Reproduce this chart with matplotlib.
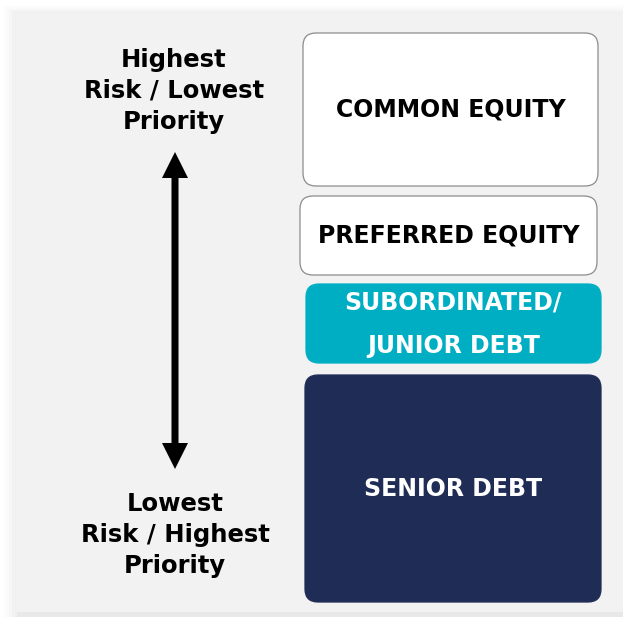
import matplotlib.pyplot as plt
from matplotlib.patches import FancyBboxPatch, FancyArrow, Rectangle

# capital stack, top (most junior) to bottom (most senior)
tranches = ["COMMON EQUITY", "PREFERRED EQUITY", "SUBORDINATED/\nJUNIOR DEBT", "SENIOR DEBT"]
top_label = "Highest\nRisk / Lowest\nPriority"
bottom_label = "Lowest\nRisk / Highest\nPriority"

# layout in pixels (x0, y0, x1, y1), y grows downward
boxes = [(303, 33, 598, 186), (300, 196, 597, 275), (306, 284, 601, 363), (305, 375, 601, 602)]
fills = ["white", "white", "#00AEC3", "#1F2C55"]
edges = ["#8C8C8C", "#8C8C8C", "#00AEC3", "#1F2C55"]
text_colors = ["black", "black", "white", "white"]
spacing = [1.2, 1.2, 2.0, 1.2]

W, H = 623, 617
fig = plt.figure(figsize=(W / 100, H / 100), dpi=100, facecolor="white")
ax = fig.add_axes([0, 0, 1, 1])
ax.set_xlim(0, W)
ax.set_ylim(H, 0)
ax.axis("off")

# soft shadow and panel
for i, a in enumerate([0.008, 0.012, 0.016, 0.02]):
    ax.add_patch(Rectangle((17 - 14 + 3 * i, 15 - 10 + 2 * i), W, H, color="black", alpha=a, lw=0))
ax.add_patch(Rectangle((17, 15), W, 597, facecolor="#F2F2F2", lw=0))
ax.add_patch(Rectangle((17, 612), W, 5, facecolor="#E8E8E8", lw=0))

for (x0, y0, x1, y1), label, fc, ec, tc, ls in zip(boxes, tranches, fills, edges, text_colors, spacing):
    ax.add_patch(FancyBboxPatch((x0, y0), x1 - x0, y1 - y0,
                                boxstyle="round,pad=0,rounding_size=13",
                                facecolor=fc, edgecolor=ec, lw=0.9))
    ax.text((x0 + x1) / 2, (y0 + y1) / 2 + 0.5, label, ha="center", va="center",
            color=tc, fontsize=17, fontweight="bold", linespacing=ls)

# double headed arrow
xa, ymid = 175, 310
ax.add_patch(FancyArrow(xa, ymid, 0, 152 - ymid, width=7, head_width=26, head_length=26,
                        length_includes_head=True, color="black", lw=0))
ax.add_patch(FancyArrow(xa, ymid, 0, 469 - ymid, width=7, head_width=26, head_length=26,
                        length_includes_head=True, color="black", lw=0))

ax.text(174, 91, top_label, ha="center", va="center", fontsize=17.5,
        fontweight="bold", color="black", linespacing=1.38)
ax.text(175, 535, bottom_label, ha="center", va="center", fontsize=17.5,
        fontweight="bold", color="black", linespacing=1.38)

fig.savefig("out.png", dpi=100, facecolor=fig.get_facecolor())
